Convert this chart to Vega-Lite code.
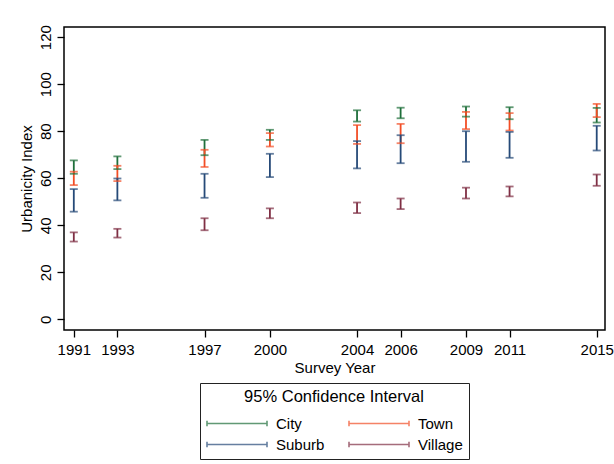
{
  "$schema": "https://vega.github.io/schema/vega-lite/v6.json",
  "width": 541,
  "height": 303,
  "autosize": {"type": "none"},
  "padding": {"left": 64, "top": 27, "right": 9, "bottom": 134},
  "background": "white",
  "config": {
    "font": "Liberation Sans",
    "view": {"stroke": "black", "strokeWidth": 1.5},
    "axis": {
      "domain": false, "grid": false, "tickColor": "black", "tickWidth": 1.3, "tickSize": 7,
      "labelColor": "black", "labelFontSize": 15, "titleFontSize": 15,
      "titleFontWeight": "normal", "titleColor": "black", "labelFlush": false, "labelOverlap": false
    }
  },
  "data": {
    "values": [
      {"year": 1991, "group": "City", "lo": 61.9, "hi": 67.6},
      {"year": 1991, "group": "Town", "lo": 57.1, "hi": 62.8},
      {"year": 1991, "group": "Suburb", "lo": 45.8, "hi": 55.4},
      {"year": 1991, "group": "Village", "lo": 33.1, "hi": 37.0},
      {"year": 1993, "group": "City", "lo": 63.9, "hi": 69.3},
      {"year": 1993, "group": "Town", "lo": 58.8, "hi": 65.3},
      {"year": 1993, "group": "Suburb", "lo": 50.6, "hi": 59.9},
      {"year": 1993, "group": "Village", "lo": 34.8, "hi": 38.5},
      {"year": 1997, "group": "City", "lo": 69.8, "hi": 76.3},
      {"year": 1997, "group": "Town", "lo": 64.8, "hi": 72.1},
      {"year": 1997, "group": "Suburb", "lo": 51.7, "hi": 61.9},
      {"year": 1997, "group": "Village", "lo": 37.9, "hi": 43.0},
      {"year": 2000, "group": "City", "lo": 76.3, "hi": 80.6},
      {"year": 2000, "group": "Town", "lo": 73.5, "hi": 79.2},
      {"year": 2000, "group": "Suburb", "lo": 60.5, "hi": 70.4},
      {"year": 2000, "group": "Village", "lo": 43.0, "hi": 47.2},
      {"year": 2004, "group": "City", "lo": 84.1, "hi": 88.9},
      {"year": 2004, "group": "Town", "lo": 74.6, "hi": 82.6},
      {"year": 2004, "group": "Suburb", "lo": 64.2, "hi": 75.8},
      {"year": 2004, "group": "Village", "lo": 45.2, "hi": 49.7},
      {"year": 2006, "group": "City", "lo": 85.5, "hi": 90.0},
      {"year": 2006, "group": "Town", "lo": 74.9, "hi": 83.1},
      {"year": 2006, "group": "Suburb", "lo": 66.4, "hi": 78.3},
      {"year": 2006, "group": "Village", "lo": 46.9, "hi": 51.4},
      {"year": 2009, "group": "City", "lo": 86.2, "hi": 90.5},
      {"year": 2009, "group": "Town", "lo": 80.9, "hi": 88.2},
      {"year": 2009, "group": "Suburb", "lo": 67.0, "hi": 80.0},
      {"year": 2009, "group": "Village", "lo": 51.4, "hi": 56.0},
      {"year": 2011, "group": "City", "lo": 85.1, "hi": 90.2},
      {"year": 2011, "group": "Town", "lo": 80.3, "hi": 87.7},
      {"year": 2011, "group": "Suburb", "lo": 68.7, "hi": 79.7},
      {"year": 2011, "group": "Village", "lo": 52.3, "hi": 56.5},
      {"year": 2015, "group": "City", "lo": 83.7, "hi": 89.9},
      {"year": 2015, "group": "Town", "lo": 86.0, "hi": 91.6},
      {"year": 2015, "group": "Suburb", "lo": 71.8, "hi": 82.3},
      {"year": 2015, "group": "Village", "lo": 56.8, "hi": 61.6}
    ]
  },
  "encoding": {
    "x": {
      "field": "year", "type": "quantitative",
      "scale": {"domain": [1990.55, 2015.38], "nice": false, "zero": false},
      "axis": {
        "values": [1991, 1993, 1997, 2000, 2004, 2006, 2009, 2011, 2015],
        "format": "d", "title": "Survey Year", "labelPadding": 5, "titlePadding": 3
      }
    },
    "color": {
      "field": "group", "type": "nominal",
      "scale": {
        "domain": ["City", "Town", "Suburb", "Village"],
        "range": ["#1f6f3b", "#f24e26", "#264a78", "#7f2f44"]
      },
      "legend": {
        "title": "95% Confidence Interval",
        "orient": "none",
        "direction": "horizontal",
        "legendX": 136,
        "legendY": 356,
        "columns": 2,
        "symbolType": "M-3,0H3M-3,-0.27V0.27M3,-0.27V0.27",
        "symbolSize": 400,
        "symbolStrokeWidth": 1.6,
        "symbolOffset": 20,
        "labelOffset": 28,
        "strokeColor": "#222222",
        "padding": 6,
        "titleAnchor": "middle",
        "titleFontSize": 16.5,
        "titleFontWeight": "normal",
        "titleColor": "black",
        "labelFontSize": 15,
        "labelColor": "black",
        "columnPadding": 20,
        "rowPadding": 2,
        "titlePadding": 7
      }
    }
  },
  "layer": [
    {
      "mark": {"type": "rule", "strokeWidth": 1.8},
      "encoding": {
        "y": {
          "field": "lo", "type": "quantitative",
          "scale": {"domain": [-4.5, 124.3], "nice": false, "zero": false},
          "axis": {
            "values": [0, 20, 40, 60, 80, 100, 120],
            "labelAngle": -90, "labelAlign": "center", "labelBaseline": "bottom",
            "labelPadding": 4, "title": "Urbanicity Index", "titlePadding": 4
          }
        },
        "y2": {"field": "hi"}
      }
    },
    {
      "mark": {"type": "tick", "orient": "horizontal", "size": 8, "thickness": 1.8},
      "encoding": {"y": {"field": "lo", "type": "quantitative"}}
    },
    {
      "mark": {"type": "tick", "orient": "horizontal", "size": 8, "thickness": 1.8},
      "encoding": {"y": {"field": "hi", "type": "quantitative"}}
    }
  ]
}
